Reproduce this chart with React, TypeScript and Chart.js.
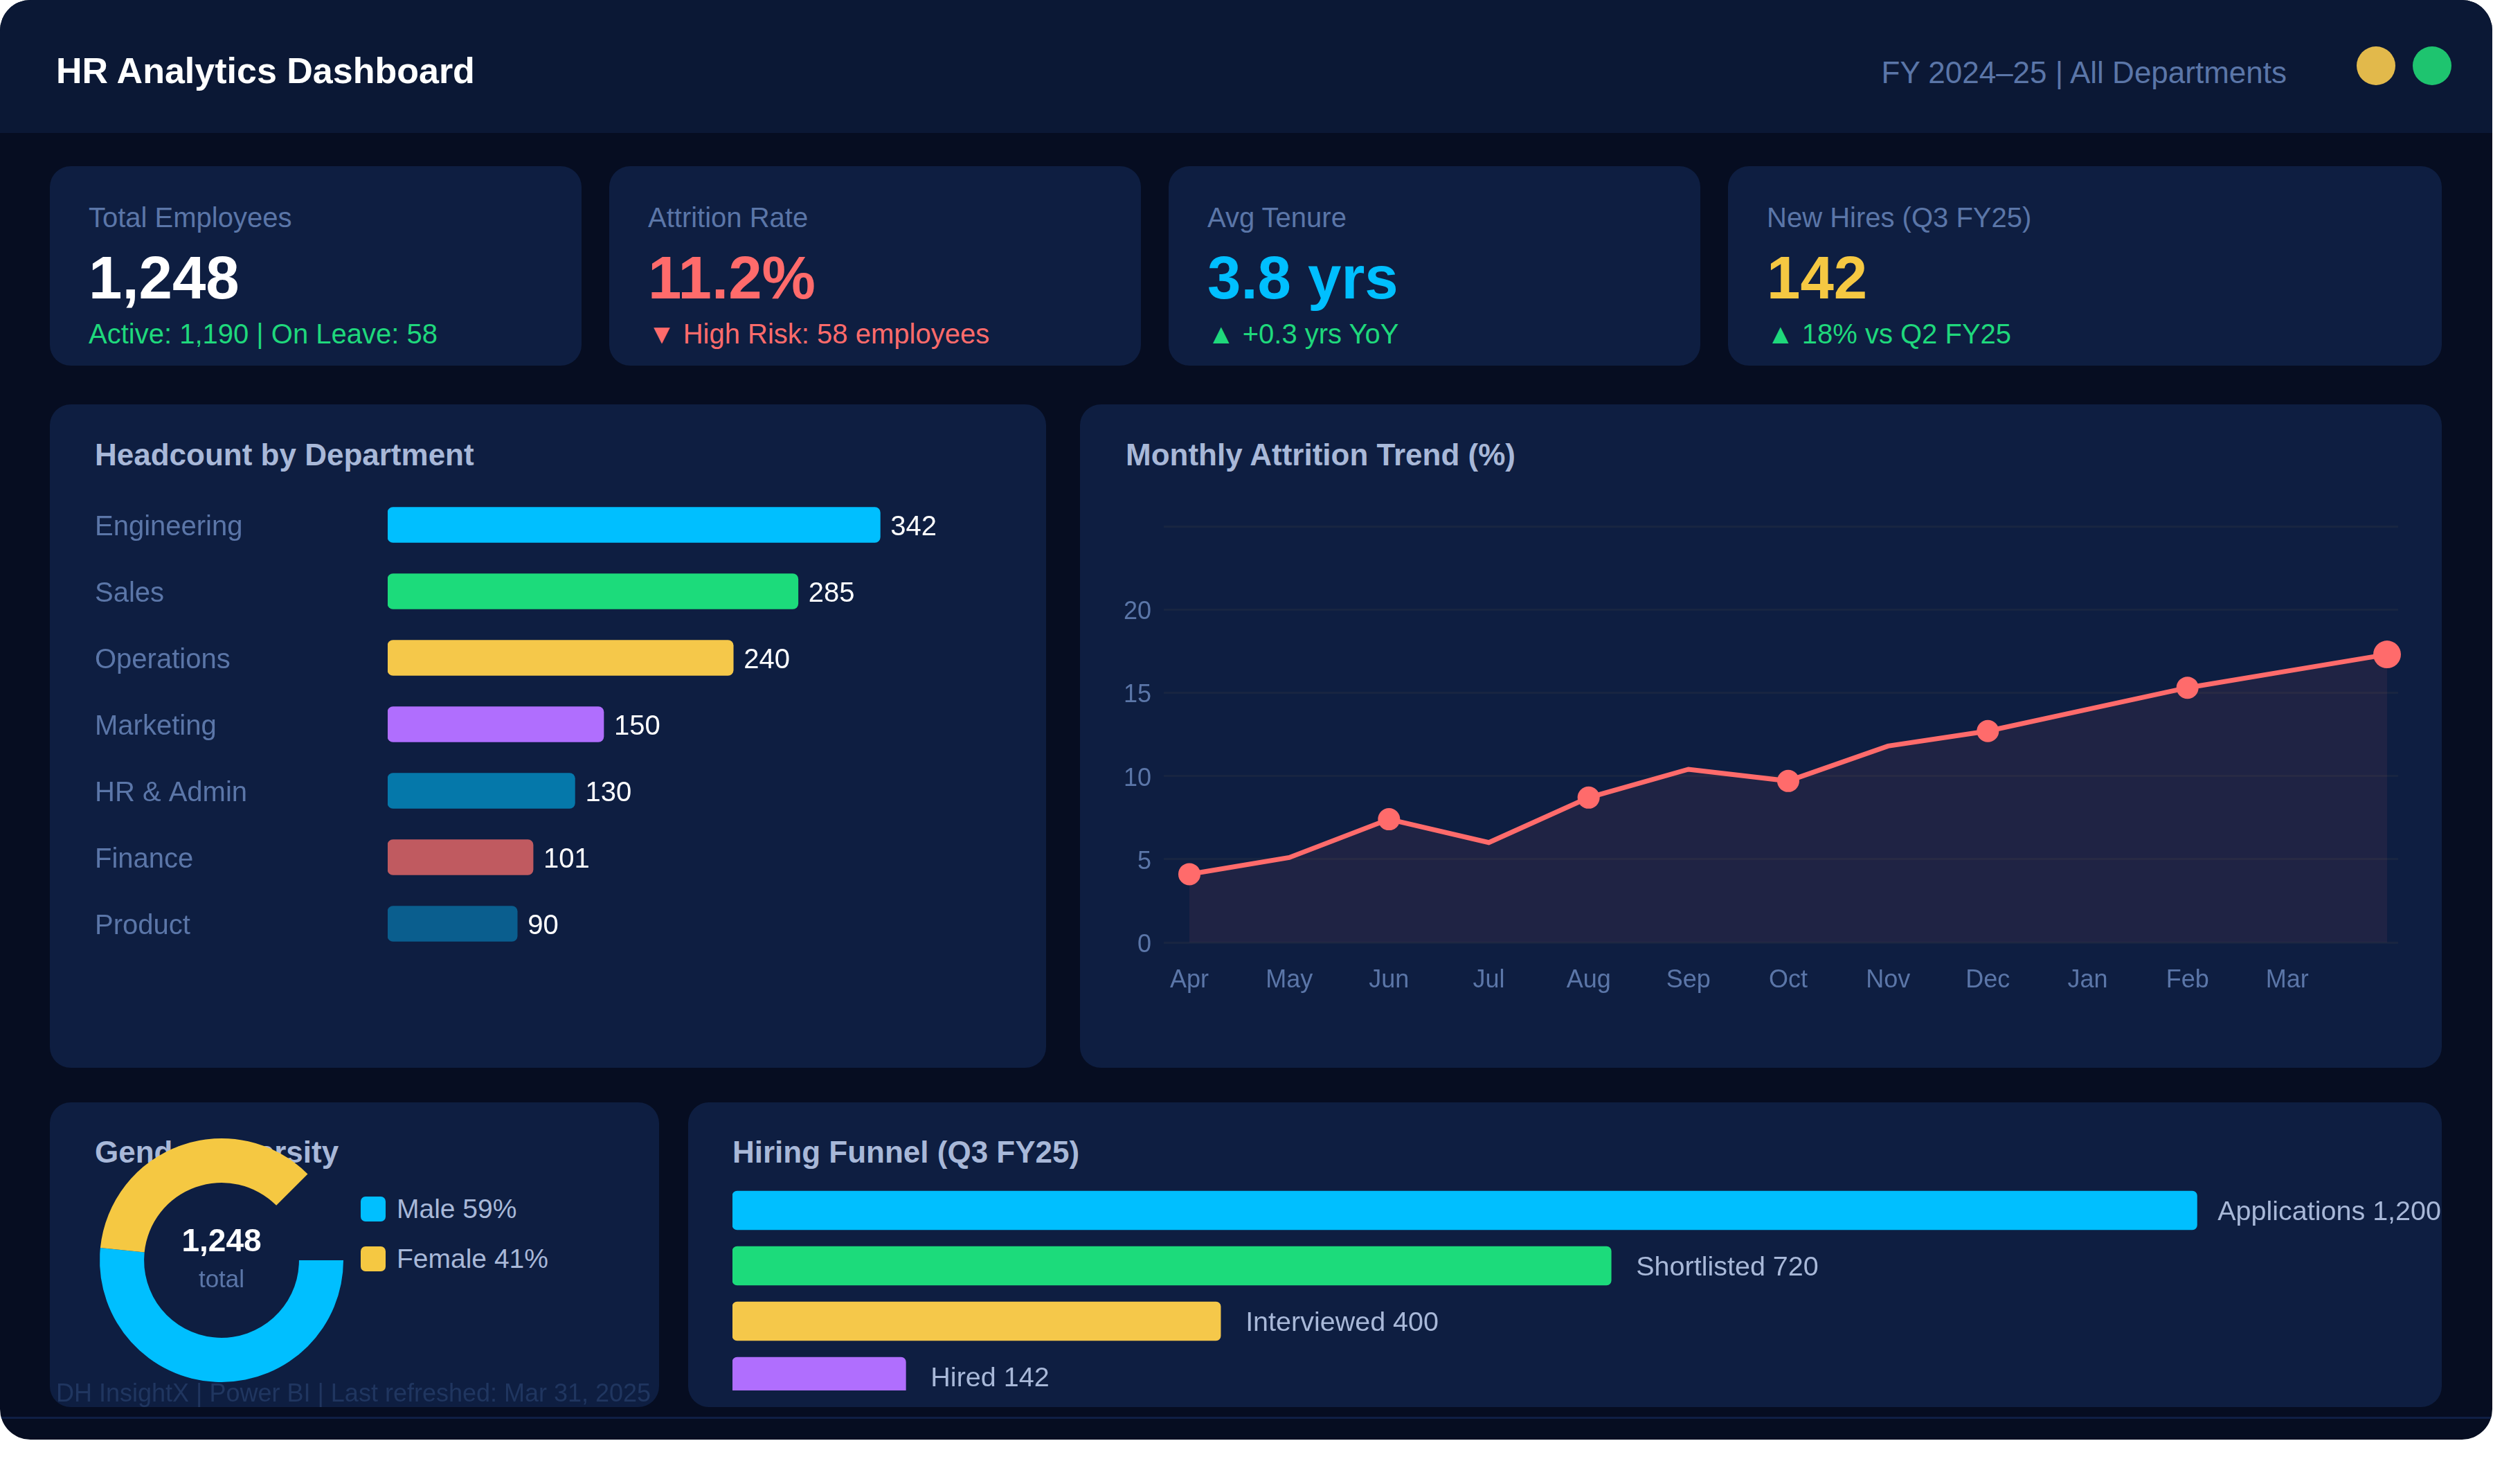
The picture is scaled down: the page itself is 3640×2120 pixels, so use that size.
import React, { useEffect, useRef } from "react";
import { Chart, registerables } from "chart.js";

Chart.register(...registerables);

const FONT = "'Liberation Sans', Arial, Helvetica, sans-serif";
Chart.defaults.font.family = FONT;

// ---------------- data ----------------
const kpiTitles = ["Total Employees", "Attrition Rate", "Avg Tenure", "New Hires (Q3 FY25)"];
const kpiValues = ["1,248", "11.2%", "3.8 yrs", "142"];
const kpiNotes = ["Active: 1,190 | On Leave: 58", "▼ High Risk: 58 employees", "▲ +0.3 yrs YoY", "▲ 18% vs Q2 FY25"];

const departments = ["Engineering", "Sales", "Operations", "Marketing", "HR & Admin", "Finance", "Product"];
const headcounts = [342, 285, 240, 150, 130, 101, 90];

const months = ["Apr", "May", "Jun", "Jul", "Aug", "Sep", "Oct", "Nov", "Dec", "Jan", "Feb", "Mar"];
const attritionRates = [4.1, 5.1, 7.4, 6.0, 8.7, 10.4, 9.7, 11.8, 12.7, 14.0, 15.3, 16.3, 17.3];
const attritionTicks = [0, 5, 10, 15, 20];

const genderLabels = ["Male", "Female"];
const genderShares = [59, 41];
const genderTotal = "1,248";

const funnelStages = ["Applications", "Shortlisted", "Interviewed", "Hired"];
const funnelCounts = [1200, 720, 400, 142];

// ---------------- styles ----------------
const COL = {
  page: "#060d21",
  header: "#0b1835",
  panel: "#0e1e41",
  muted: "#5b76a8",
  title: "#a8b8d8",
  green: "#1fd87c",
  red: "#ff6b6b",
  cyan: "#00bfff",
  yellow: "#f5c842",
};
const kpiValueColors = ["#ffffff", COL.red, COL.cyan, COL.yellow];
const kpiNoteColors = [COL.green, COL.red, COL.green, COL.green];
const deptColors = ["#00bfff", "#1cdb7b", "#f5c84a", "#b06efe", "#0578aa", "#c05a60", "#0a5e8e"];
const genderColors = ["#00bfff", "#f5c842"];
const funnelColors = ["#00bfff", "#1cdb7b", "#f5c84a", "#b06efe"];

const FRAME_W = 3600;
const FRAME_H = 2079;
const kpiBoxes = [
  { x: 72, w: 768 },
  { x: 880, w: 768 },
  { x: 1688, w: 768 },
  { x: 2496, w: 1031 },
];

function Txt(props: any) {
  const { x, y, size, color, bold, align, children } = props;
  const style: React.CSSProperties = {
    position: "absolute",
    top: y - 0.8465 * size,
    fontSize: size,
    lineHeight: 1,
    color,
    fontWeight: bold ? 700 : 400,
    whiteSpace: "nowrap",
  };
  if (align === "right") style.right = FRAME_W - x;
  else if (align === "center") {
    style.left = x;
    style.transform = "translateX(-50%)";
  } else style.left = x;
  return <div style={style}>{children}</div>;
}

function Panel(props: any) {
  const { x, y, w, h } = props;
  return (
    <div
      style={{
        position: "absolute",
        left: x,
        top: y,
        width: w,
        height: h,
        background: COL.panel,
        borderRadius: 30,
      }}
    />
  );
}

function valueLabels(fmt: (i: number) => string, color: string, size: number, gap: number, dy: number) {
  return {
    id: "valueLabels",
    afterDatasetsDraw(chart: any) {
      const ctx = chart.ctx;
      const meta = chart.getDatasetMeta(0);
      ctx.save();
      ctx.font = `${size}px ${FONT}`;
      ctx.fillStyle = color;
      ctx.textBaseline = "middle";
      ctx.textAlign = "left";
      meta.data.forEach((bar: any, i: number) => {
        const t = fmt(i);
        const w = ctx.measureText(t).width;
        let x = bar.x + gap;
        if (x + w > chart.width) x = chart.width - w;
        ctx.fillText(t, x, bar.y + dy);
      });
      ctx.restore();
    },
  };
}

export default function App() {
  const deptRef = useRef<HTMLCanvasElement>(null);
  const lineRef = useRef<HTMLCanvasElement>(null);
  const donutRef = useRef<HTMLCanvasElement>(null);
  const funnelRef = useRef<HTMLCanvasElement>(null);

  useEffect(() => {
    const charts: Chart[] = [];

    charts.push(
      new Chart(deptRef.current!, {
        type: "bar",
        data: {
          labels: departments,
          datasets: [
            {
              data: headcounts,
              backgroundColor: deptColors,
              borderRadius: 8,
              borderSkipped: false,
              barThickness: 51,
            },
          ],
        },
        options: {
          indexAxis: "y",
          animation: false,
          responsive: false,
          events: [],
          layout: { padding: 0 },
          plugins: { legend: { display: false }, tooltip: { enabled: false } },
          scales: {
            x: { display: false, min: 0, max: 450 },
            y: {
              grid: { display: false, drawTicks: false },
              border: { display: false },
              ticks: {
                color: COL.muted,
                font: { family: FONT, size: 40 },
                crossAlign: "far",
                padding: 0,
                labelOffset: 4,
                autoSkip: false,
              },
              afterFit: (s: any) => {
                s.width = 423;
                s.paddingTop = 0;
                s.paddingBottom = 0;
              },
            },
          },
        } as any,
        plugins: [valueLabels((i) => String(headcounts[i]), "#ffffff", 40, 15, 4)],
      })
    );

    charts.push(
      new Chart(lineRef.current!, {
        type: "line",
        data: {
          datasets: [
            {
              data: attritionRates.map((v, i) => ({ x: i, y: v })),
              borderColor: COL.red,
              borderWidth: 7,
              backgroundColor: "rgba(255,107,107,0.07)",
              fill: "origin",
              tension: 0,
              pointRadius: (ctx: any) =>
                ctx.dataIndex % 2 ? 0 : ctx.dataIndex === attritionRates.length - 1 ? 20 : 16,
              pointBackgroundColor: COL.red,
              pointBorderWidth: 0,
              clip: false,
            } as any,
          ],
        },
        options: {
          animation: false,
          responsive: false,
          events: [],
          layout: { padding: { top: 30, right: 30, left: 0, bottom: 0 } },
          plugins: { legend: { display: false }, tooltip: { enabled: false } },
          scales: {
            x: {
              type: "linear",
              min: -0.2566,
              max: 12.111,
              grid: { display: false, drawTicks: false },
              border: { display: false },
              ticks: {
                color: COL.muted,
                font: { family: FONT, size: 36 },
                padding: 33,
                autoSkip: false,
                maxRotation: 0,
                callback: (v: any) => (months[v] !== undefined ? months[v] : ""),
              },
              afterBuildTicks: (s: any) => {
                s.ticks = months.map((_, i) => ({ value: i }));
              },
              afterFit: (s: any) => {
                s.height = 100;
                s.paddingLeft = 0;
                s.paddingRight = 0;
              },
            },
            y: {
              min: 0,
              max: 25,
              grid: { color: "#182541", lineWidth: 3, drawTicks: false },
              border: { display: false },
              ticks: {
                stepSize: 5,
                color: COL.muted,
                font: { family: FONT, size: 36 },
                padding: 18,
                labelOffset: 4,
                callback: (v: any) => (attritionTicks.includes(v) ? String(v) : ""),
              },
              afterFit: (s: any) => {
                s.width = 81;
                s.paddingTop = 0;
                s.paddingBottom = 0;
              },
            },
          },
        } as any,
      })
    );

    charts.push(
      new Chart(donutRef.current!, {
        type: "doughnut",
        data: {
          labels: genderLabels,
          datasets: [
            {
              data: genderShares,
              backgroundColor: genderColors,
              borderWidth: 0,
              hoverOffset: 0,
              offset: 0,
            },
          ],
        },
        options: {
          animation: false,
          responsive: false,
          events: [],
          cutout: "63.6%",
          rotation: 90,
          circumference: 315,
          layout: { padding: 24 },
          plugins: { legend: { display: false }, tooltip: { enabled: false } },
        } as any,
      })
    );

    charts.push(
      new Chart(funnelRef.current!, {
        type: "bar",
        data: {
          labels: funnelStages,
          datasets: [
            {
              data: funnelCounts,
              backgroundColor: funnelColors,
              borderRadius: 7,
              borderSkipped: false,
              barThickness: 56,
            },
          ],
        },
        options: {
          indexAxis: "y",
          animation: false,
          responsive: false,
          events: [],
          layout: { padding: 0 },
          plugins: { legend: { display: false }, tooltip: { enabled: false } },
          scales: {
            x: { display: false, min: 0, max: 1400 },
            y: { display: false },
          },
        } as any,
        plugins: [
          valueLabels(
            (i) => `${funnelStages[i]} ${funnelCounts[i].toLocaleString("en-US")}`,
            COL.title,
            39.5,
            36,
            3
          ),
        ],
      })
    );

    return () => charts.forEach((c) => c.destroy());
  }, []);

  const abs = (l: number, t: number, w: number, h: number): React.CSSProperties => ({
    position: "absolute",
    left: l,
    top: t,
    width: w,
    height: h,
    display: "block",
  });

  return (
    <div
      style={{
        position: "absolute",
        left: 0,
        top: 0,
        width: FRAME_W,
        height: FRAME_H,
        borderRadius: 44,
        overflow: "hidden",
        background: COL.page,
        fontFamily: FONT,
      }}
    >
      {/* header */}
      <div style={{ position: "absolute", left: 0, top: 0, width: FRAME_W, height: 192, background: COL.header }} />
      <Txt x={81} y={120} size={52} color="#ffffff" bold>
        HR Analytics Dashboard
      </Txt>
      <Txt x={3303} y={120} size={44} color={COL.muted} align="right">
        FY 2024–25 | All Departments
      </Txt>
      <div style={{ position: "absolute", left: 3404, top: 67, width: 56, height: 56, borderRadius: "50%", background: "#e2b94b" }} />
      <div style={{ position: "absolute", left: 3485, top: 67, width: 56, height: 56, borderRadius: "50%", background: "#1ec46f" }} />

      {/* KPI cards */}
      {kpiBoxes.map((b, i) => (
        <React.Fragment key={i}>
          <Panel x={b.x} y={240} w={b.w} h={288} />
          <Txt x={b.x + 56} y={328} size={40} color={COL.muted}>
            {kpiTitles[i]}
          </Txt>
          <Txt x={b.x + 56} y={431} size={87} color={kpiValueColors[i]} bold>
            {kpiValues[i]}
          </Txt>
          <Txt x={b.x + 56} y={496} size={40} color={kpiNoteColors[i]}>
            {kpiNotes[i]}
          </Txt>
        </React.Fragment>
      ))}

      {/* middle panels */}
      <Panel x={72} y={584} w={1439} h={958} />
      <Panel x={1560} y={584} w={1967} h={958} />
      <Txt x={137} y={672} size={44} color={COL.title} bold>
        Headcount by Department
      </Txt>
      <Txt x={1626} y={672} size={44} color={COL.title} bold>
        Monthly Attrition Trend (%)
      </Txt>
      <canvas ref={deptRef} width={1359} height={672} style={abs(137, 710, 1359, 672)} />
      <canvas ref={lineRef} width={1894} height={731} style={abs(1600, 730, 1894, 731)} />

      {/* bottom panels */}
      <Panel x={72} y={1592} w={880} h={440} />
      <Panel x={994} y={1592} w={2533} h={440} />
      <Txt x={137} y={1679} size={44} color={COL.title} bold>
        Gender Diversity
      </Txt>
      <Txt x={1058} y={1679} size={44} color={COL.title} bold>
        Hiring Funnel (Q3 FY25)
      </Txt>
      <canvas ref={donutRef} width={400} height={400} style={abs(120, 1620, 400, 400)} />
      <Txt x={320} y={1807} size={46} color="#ffffff" bold align="center">
        {genderTotal}
      </Txt>
      <Txt x={320} y={1859} size={35} color={COL.muted} align="center">
        total
      </Txt>
      {genderLabels.map((g, i) => (
        <React.Fragment key={g}>
          <div
            style={{
              position: "absolute",
              left: 521,
              top: 1728 + i * 72,
              width: 36,
              height: 36,
              borderRadius: 7,
              background: genderColors[i],
            }}
          />
          <Txt x={573} y={1759 + i * 72} size={39} color={COL.title}>
            {`${g} ${genderShares[i]}%`}
          </Txt>
        </React.Fragment>
      ))}
      <div style={{ position: "absolute", left: 1058, top: 1708, width: 2468, height: 300, overflow: "hidden" }}>
        <canvas ref={funnelRef} width={2468} height={320} style={abs(0, 0, 2468, 320)} />
      </div>

      {/* footer */}
      <div style={{ position: "absolute", left: 0, top: 2046, width: FRAME_W, height: 3, background: "#0f1f45" }} />
      <Txt x={81} y={2024} size={36} color="#203660">
        DH InsightX | Power BI | Last refreshed: Mar 31, 2025
      </Txt>
    </div>
  );
}
